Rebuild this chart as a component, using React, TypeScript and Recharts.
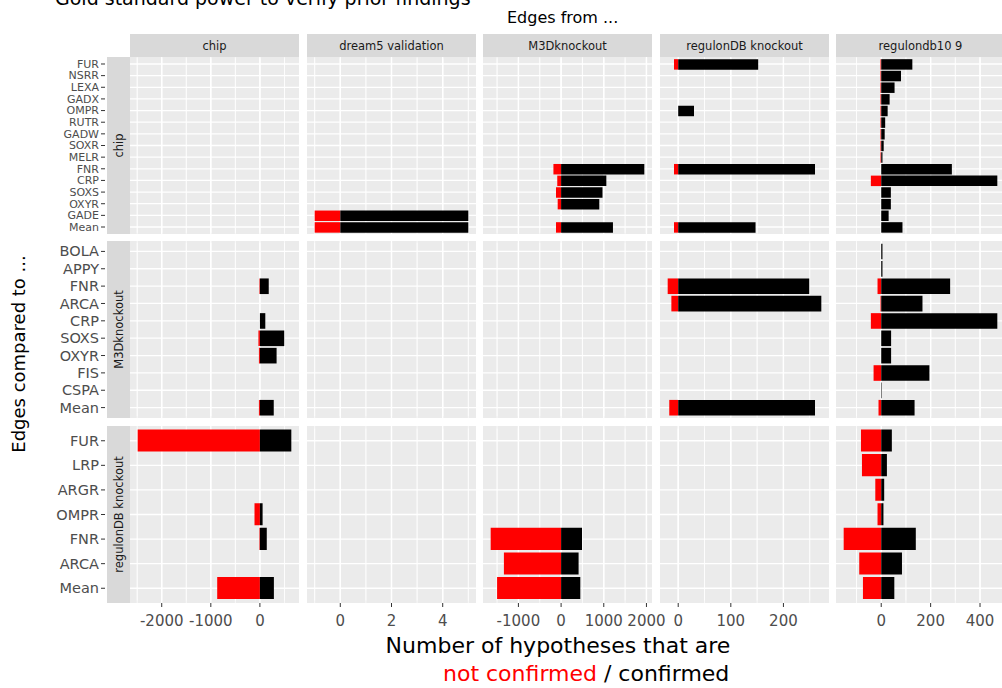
import { BarChart, Bar, XAxis, YAxis, CartesianGrid } from 'recharts'

const n = null

// rows: edges compared to ...
const rowNames = ['chip', 'M3Dknockout', 'regulonDB knockout']
const chipGenes = ['FUR', 'NSRR', 'LEXA', 'GADX', 'OMPR', 'RUTR', 'GADW', 'SOXR', 'MELR', 'FNR', 'CRP', 'SOXS', 'OXYR', 'GADE', 'Mean']
const m3dGenes = ['BOLA', 'APPY', 'FNR', 'ARCA', 'CRP', 'SOXS', 'OXYR', 'FIS', 'CSPA', 'Mean']
const regulonGenes = ['FUR', 'LRP', 'ARGR', 'OMPR', 'FNR', 'ARCA', 'Mean']

// columns: edges from ...
const sourceNames = ['chip', 'dream5 validation', 'M3Dknockout', 'regulonDB knockout', 'regulondb10 9']
const majorTicks = [[-2000, -1000, 0], [0, 2, 4], [-1000, 0, 1000, 2000], [0, 100, 200], [0, 200, 400]]
const minorTicks = [[-2500, -1500, -500, 500], [-1, 1, 3, 5], [-1500, -500, 500, 1500], [50, 150, 250], [-100, 100, 300]]

// one entry per source column, values per gene (null = no bar)
const chipRowNotConfirmed = [
  [n, n, n, n, n, n, n, n, n, n, n, n, n, n, n],
  [n, n, n, n, n, n, n, n, n, n, n, n, n, -1, -1],
  [n, n, n, n, n, n, n, n, n, -180, -90, -120, -80, n, -120],
  [-8, n, n, n, n, n, n, n, n, -8, n, n, n, n, -8],
  [-3, -3, -3, -3, -3, -3, -3, -3, -3, n, -42, n, n, n, n],
]
const chipRowConfirmed = [
  [n, n, n, n, n, n, n, n, n, n, n, n, n, n, n],
  [n, n, n, n, n, n, n, n, n, n, n, n, n, 5, 5],
  [n, n, n, n, n, n, n, n, n, 1950, 1060, 970, 895, n, 1215],
  [152, n, n, n, 30, n, n, n, n, 260, n, n, n, n, 147],
  [126, 80, 54, 34, 26, 16, 14, 10, 5, 286, 470, 39, 39, 30, 86],
]

const m3dRowNotConfirmed = [
  [n, n, -10, n, n, -30, -20, n, n, -20],
  [n, n, n, n, n, n, n, n, n, n],
  [n, n, n, n, n, n, n, n, n, n],
  [n, n, -20, -13, n, n, n, n, n, -17],
  [n, n, -15, -3, -42, n, n, -31, n, -11],
]
const m3dRowConfirmed = [
  [n, n, 180, n, 110, 495, 340, n, n, 282],
  [n, n, n, n, n, n, n, n, n, n],
  [n, n, n, n, n, n, n, n, n, n],
  [n, n, 249, 272, n, n, n, n, n, 260],
  [5, 5, 279, 167, 470, 40, 40, 195, 2, 135],
]

const regulonRowNotConfirmed = [
  [-2490, n, n, -110, -10, n, -870],
  [n, n, n, n, n, n, n],
  [n, n, n, n, -1650, -1340, -1500],
  [n, n, n, n, n, n, n],
  [-82, -78, -24, -15, -152, -89, -74],
]
const regulonRowConfirmed = [
  [640, n, n, 55, 140, n, 285],
  [n, n, n, n, n, n, n],
  [n, n, n, n, 490, 410, 450],
  [n, n, n, n, n, n, n],
  [43, 23, 12, 9, 140, 84, 53],
]

const rowGenes = [chipGenes, m3dGenes, regulonGenes]
const rowNot = [chipRowNotConfirmed, m3dRowNotConfirmed, regulonRowNotConfirmed]
const rowConf = [chipRowConfirmed, m3dRowConfirmed, regulonRowConfirmed]

// layout
const PANEL_W = 169
const PANEL_H = 177
const COL_LEFT = [130, 307, 483, 660, 836]
const ROW_TOP = [57, 241, 426]
const Y_AXIS_W = 90
const X_AXIS_H = 40
const labelSize = [11, 14.5, 14.5]
const FONT = "'DejaVu Sans', sans-serif"

// free x scale per column, ggplot style 5% expansion
function columnDomain(c: number): [number, number] {
  const vals: number[] = []
  for (let r = 0; r < 3; r++) {
    for (const v of rowNot[r][c]) if (v != null) vals.push(v)
    for (const v of rowConf[r][c]) if (v != null) vals.push(v)
  }
  const lo = Math.min(...vals)
  const hi = Math.max(...vals)
  const pad = (hi - lo) * 0.05
  return [lo - pad, hi + pad]
}
const domains = sourceNames.map((_, c) => columnDomain(c))

// x position of a value inside a panel (same linear map as the chart's x axis)
const gridX = (c: number, v: number) =>
  COL_LEFT[c] + ((v - domains[c][0]) / (domains[c][1] - domains[c][0])) * PANEL_W

function GeneTick({ y, payload, size, show }: any) {
  if (!show) return <g />
  return (
    <g>
      <line x1={61} x2={65} y1={y} y2={y} stroke="#333" strokeWidth={1} />
      <text x={59} y={y} dy="0.35em" textAnchor="end" fontSize={size} fill="#4D4D4D" fontFamily={FONT}>
        {payload.value}
      </text>
    </g>
  )
}

function Panel({ r, c }: { r: number; c: number }) {
  const genes = rowGenes[r]
  const data = genes.map((name, i) => ({
    name,
    notConfirmed: rowNot[r][c][i],
    confirmed: rowConf[r][c][i],
  }))
  const first = c === 0
  const bottom = r === 2
  const xH = bottom ? X_AXIS_H : 0
  const unit = PANEL_H / (genes.length + 0.2)
  const barSize = unit * 0.9
  const domain = domains[c]

  // red and black bars share one slot (negative gap), both grow from zero
  return (
    <div style={{ position: 'absolute', left: COL_LEFT[c] - Y_AXIS_W, top: ROW_TOP[r] }}>
      <BarChart
        width={PANEL_W + Y_AXIS_W}
        height={PANEL_H + xH}
        data={data}
        layout="vertical"
        barGap={-barSize}
        margin={{ top: unit * 0.1, right: 0, bottom: unit * 0.1, left: 0 }}
      >
        <XAxis xAxisId="minor" type="number" domain={domain} ticks={minorTicks[c]} allowDataOverflow interval={0} hide />
        <XAxis
          type="number"
          domain={domain}
          ticks={majorTicks[c]}
          allowDataOverflow
          interval={0}
          hide={!bottom}
          height={xH}
          axisLine={false}
          tickSize={4}
          tickMargin={8 + unit * 0.1}
          tickLine={{ stroke: '#333', transform: `translate(0,${unit * 0.1})` }}
          tick={{ fill: '#4D4D4D', fontSize: 15, fontFamily: FONT }}
        />
        <YAxis
          type="category"
          dataKey="name"
          width={Y_AXIS_W}
          interval={0}
          axisLine={false}
          tickLine={false}
          tick={(p: any) => <GeneTick {...p} size={labelSize[r]} show={first} />}
        />
        <CartesianGrid xAxisId="minor" horizontal={false} syncWithTicks stroke="#fff" strokeWidth={0.7} fill="none" />
        <CartesianGrid syncWithTicks stroke="#fff" strokeWidth={1.3} fill="none" />
        <Bar dataKey="notConfirmed" fill="#FF0000" barSize={barSize} isAnimationActive={false} />
        <Bar dataKey="confirmed" fill="#000000" barSize={barSize} isAnimationActive={false} />
      </BarChart>
    </div>
  )
}

export default function App() {
  return (
    <div
      style={{
        position: 'absolute', left: 0, top: 0, width: 1002, height: 688,
        overflow: 'hidden', background: '#fff', fontFamily: FONT,
      }}
    >
      <style>{'.recharts-surface { overflow: visible; }'}</style>

      {/* panel backgrounds and vertical grid lines, under the charts */}
      <svg width={1002} height={688} style={{ position: 'absolute', left: 0, top: 0 }}>
        {ROW_TOP.map((top, r) =>
          COL_LEFT.map((left, c) => (
            <g key={`${r}-${c}`}>
              <rect x={left} y={top} width={PANEL_W} height={PANEL_H} fill="#EBEBEB" />
              {minorTicks[c].map((v) => (
                <line key={`m${v}`} x1={gridX(c, v)} x2={gridX(c, v)} y1={top} y2={top + PANEL_H} stroke="#fff" strokeWidth={0.7} />
              ))}
              {majorTicks[c].map((v) => (
                <line key={`M${v}`} x1={gridX(c, v)} x2={gridX(c, v)} y1={top} y2={top + PANEL_H} stroke="#fff" strokeWidth={1.3} />
              ))}
            </g>
          ))
        )}
      </svg>

      {rowNames.map((_, r) => sourceNames.map((__, c) => <Panel key={`${r}-${c}`} r={r} c={c} />))}

      <svg width={1002} height={688} style={{ position: 'absolute', left: 0, top: 0, pointerEvents: 'none' }} fontFamily={FONT}>
        <text x={55} y={5} fontSize={19} fill="#000">Gold standard power to verify prior findings</text>
        <text x={507} y={22.5} fontSize={16} fill="#000">Edges from ...</text>

        {sourceNames.map((s, c) => (
          <g key={s}>
            <rect x={COL_LEFT[c]} y={34} width={PANEL_W} height={23} fill="#D9D9D9" />
            <text x={COL_LEFT[c] + PANEL_W / 2} y={45.5} dy="0.35em" textAnchor="middle" fontSize={11.5} fill="#1A1A1A">{s}</text>
          </g>
        ))}

        {rowNames.map((s, r) => (
          <g key={s}>
            <rect x={107} y={ROW_TOP[r]} width={23} height={PANEL_H} fill="#D9D9D9" />
            <text
              transform={`translate(118.5,${ROW_TOP[r] + PANEL_H / 2}) rotate(-90)`}
              dy="0.35em" textAnchor="middle" fontSize={11.5} fill="#1A1A1A"
            >
              {s}
            </text>
          </g>
        ))}

        <text transform="translate(25,354) rotate(-90)" textAnchor="middle" fontSize={18} fill="#000">Edges compared to ...</text>

        <text x={558} y={653} textAnchor="middle" fontSize={22} fill="#000">Number of hypotheses that are</text>
        <text x={443} y={680.5} fontSize={22}>
          <tspan fill="#FF0000">not confirmed</tspan>
          <tspan fill="#000"> / confirmed</tspan>
        </text>
      </svg>
    </div>
  )
}
